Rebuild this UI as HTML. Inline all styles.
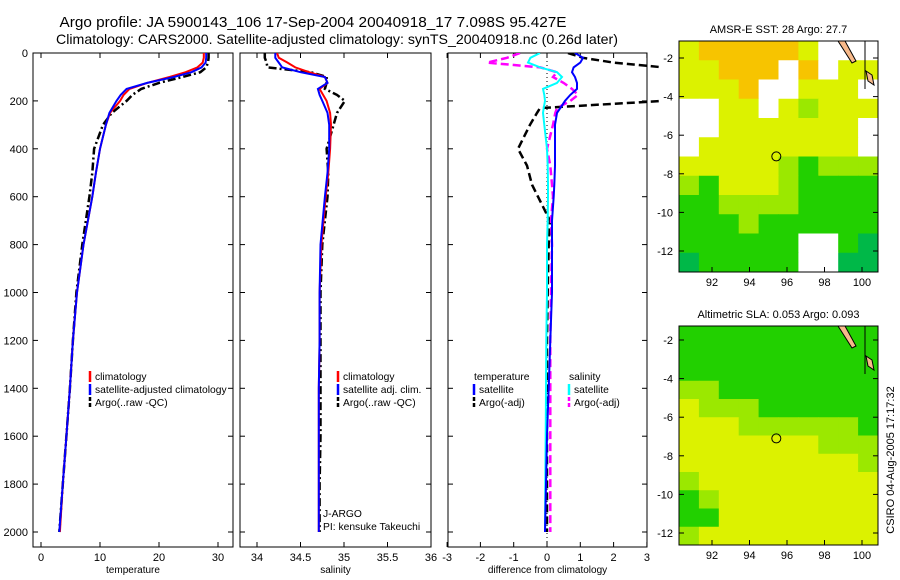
<!DOCTYPE html>
<html><head><meta charset="utf-8">
<style>
body{margin:0;background:#fff;width:900px;height:580px;overflow:hidden;font-family:"Liberation Sans",sans-serif}
svg{display:block}
text{font-family:"Liberation Sans",sans-serif;fill:#000}
</style></head>
<body>
<svg id="fig" width="900" height="580" viewBox="0 0 900 580">
<text x="313" y="27" font-size="14.5" text-anchor="middle" textLength="507" lengthAdjust="spacingAndGlyphs">Argo profile: JA 5900143_106 17-Sep-2004 20040918_17 7.098S 95.427E</text>
<text x="337" y="44" font-size="14" text-anchor="middle" textLength="562" lengthAdjust="spacingAndGlyphs">Climatology: CARS2000. Satellite-adjusted climatology: synTS_20040918.nc (0.26d later)</text>
<text transform="translate(894,460) rotate(-90)" font-size="11" text-anchor="middle">CSIRO 04-Aug-2005 17:17:32</text>
</svg>
<script>
// ---------- data ----------
const depths = [0,20,40,60,80,100,125,150,175,200,250,300,400,500,600,800,1000,1200,1400,1600,1800,2000];
const tempClim = [27.6,27.6,27.4,26.5,24.5,21.8,18,15,14,13.4,11.7,11,10,9.3,8.7,7.2,6.1,5.4,4.9,4.3,3.7,3.2];
const tempSat  = [28.0,28.0,27.9,27.2,25.5,22.5,18,14.5,13.5,12.8,11.6,11,10,9.3,8.7,7.2,6.1,5.4,4.9,4.3,3.7,3.1];
const tempArgo = [28.4,28.4,28.3,28.0,27.0,24.0,20,17,15.5,14.5,12,10.5,9,8.7,8.2,7.0,6.0,5.4,4.9,4.3,3.7,3.1];
const salClim = [34.23,34.25,34.35,34.44,34.6,34.78,34.81,34.72,34.76,34.80,34.84,34.85,34.84,34.82,34.79,34.74,34.72,34.72,34.71,34.71,34.71,34.71];
const salSat  = [34.21,34.21,34.25,34.29,34.5,34.78,34.81,34.70,34.72,34.75,34.81,34.83,34.83,34.81,34.78,34.73,34.72,34.72,34.71,34.71,34.71,34.71];
const salArgo = [34.09,34.09,34.11,34.12,34.62,34.80,34.8,34.78,34.92,35.01,34.92,34.88,34.80,34.82,34.81,34.75,34.73,34.73,34.73,34.73,34.72,34.72];
const diffDepths = [0,20,40,60,80,100,125,150,175,200,230,250,300,400,470,550,600,700,800,1000,1200,1400,1600,1800,2000];
const dTempSat  = [0.84,1.08,1.0,0.8,0.75,0.84,0.9,0.9,0.7,0.54,0.4,0.3,0.24,0.24,0.24,0.22,0.2,0.15,0.15,0.15,0.1,0.05,0,-0.03,-0.06];
const dSalSat   = [-0.21,-0.5,-0.57,-0.2,0.3,0.45,0.3,-0.12,-0.08,-0.06,-0.1,-0.12,-0.08,0,0.02,0.03,0.03,0.02,0,0,-0.02,-0.03,-0.04,-0.05,-0.06];
const dTempArgo = [0.63,1.08,2.0,3.5,4.5,4.5,4.5,4.5,4.5,3.5,-0.21,-0.3,-0.51,-0.87,-0.6,-0.45,-0.27,0.09,0.05,0.02,0,0,0,0,0];
const dSalArgo  = [-0.81,-1.2,-1.8,-0.2,0.3,0.18,0.5,0.75,0.93,0.7,0.3,0.25,0.18,0,0.1,0.15,0.18,0.12,0.15,0.12,0.1,0.1,0.1,0.1,0.1];
const depthTicks = [0,200,400,600,800,1000,1200,1400,1600,1800,2000];
const tempTicks = [0,10,20,30];
const salTicks = [34,34.5,35,35.5,36];
const diffTicks = [-3,-2,-1,0,1,2,3];
const sstLatTicks = [-2,-4,-6,-8,-10,-12];
const lonTicks = [92,94,96,98,100];
// map grids (rows north->south, cols west->east)
const sstGrid = [
 "YOOOOOYWWW","YYOOOWOWYY","YYYOWWYYYW","WWYYWYLYYY","WWYYYYYYYW",
 "WYYYYYYYYW","YYYYYLGLLL","LGYYYLGGGG","GGLLLLGGGG","GGGLGGGGGG",
 "GGGGGGWWGD","DGGGGGWWDD"];
const slaGrid = [
 "GGGGGGGGGG","GGGGGGGGGG","GGGGGGGGGG","LLGGGGGGGG","YLLLGGGGGG",
 "YYYLLLLLLG","YYYYYYYLLL","YYYYYYYYYL","LYYYYYYYYY","GLYYYYYYYY",
 "GGYYYYYYYY","LYYYYYYYYY"];
const argoLon = 95.43, argoLat = -7.1;

// ---------- drawing ----------
const NS="http://www.w3.org/2000/svg";
const fig=document.getElementById('fig');
function mk(tag,attrs,parent){const e=document.createElementNS(NS,tag);for(const k in attrs)e.setAttribute(k,attrs[k]);(parent||fig).appendChild(e);return e;}
const Y0=53, pxPerM=479/2000;
const yD=d=>Y0+d*pxPerM;
const xT=v=>41+v*5.9;
const xS=v=>257+(v-34)*87;
const xD=v=>547+v*33.3;

function panel(name,x0,x1,xs,ticks,label,fmt){
  const g=mk('g',{});
  
  
  mk('rect',{x:x0,y:53,width:x1-x0,height:494,fill:'none',stroke:'#000','stroke-width':1},g);
  depthTicks.forEach(d=>{
    mk('line',{x1:x0,x2:x0+5,y1:yD(d),y2:yD(d),stroke:'#000'},g);
    mk('line',{x1:x1-5,x2:x1,y1:yD(d),y2:yD(d),stroke:'#000'},g);
    if(x0<40){const t=mk('text',{x:28,y:yD(d)+4,'font-size':11,'text-anchor':'end'},g);t.textContent=d;
      }
  });
  ticks.forEach(v=>{const x=xs(v);
    mk('line',{x1:x,x2:x,y1:547,y2:542,stroke:'#000'},g);
    mk('line',{x1:x,x2:x,y1:53,y2:58,stroke:'#000'},g);
    const t=mk('text',{x:x,y:561,'font-size':11,'text-anchor':'middle'},g);t.textContent=fmt(v);
    
  });
  const t=mk('text',{x:(x0+x1)/2,y:573,'font-size':10,'text-anchor':'middle'},g);t.textContent=label;
  
  return g;
}
function line(g,ds,vals,xs,color,w,dash,name,clip){
  const pts=ds.map((d,i)=>xs(vals[i]).toFixed(1)+','+yD(d).toFixed(1)).join(' ');
  const p=mk('polyline',{points:pts,fill:'none',stroke:color,'stroke-width':w,'stroke-dasharray':dash||'none','clip-path':clip||'none'},g);
  
  
}
const defs=mk('defs',{});
[['c1',33,233],['c2',240,431],['c3',448,662]].forEach(([id,a,b])=>{const c=mk('clipPath',{id},defs);mk('rect',{x:a,y:53,width:b-a,height:494},c);});

const g1=panel('temperature-panel',33,233,xT,tempTicks,'temperature',v=>v);
line(g1,depths,tempArgo,xT,'#000',2.5,'8,3,2,3','argo-temperature-line','url(#c1)');
line(g1,depths,tempClim,xT,'#f00',2,'','climatology-temperature-line','url(#c1)');
line(g1,depths,tempSat,xT,'#00f',2,'','satellite-temperature-line','url(#c1)');
const g2=panel('salinity-panel',240,431,xS,salTicks,'salinity',v=>v);
line(g2,depths,salArgo,xS,'#000',2.5,'8,3,2,3','argo-salinity-line','url(#c2)');
line(g2,depths,salClim,xS,'#f00',2,'','climatology-salinity-line','url(#c2)');
line(g2,depths,salSat,xS,'#00f',2,'','satellite-salinity-line','url(#c2)');
const g3=panel('difference-panel',448,647,xD,diffTicks,'difference from climatology',v=>v);
mk('line',{x1:547,x2:547,y1:53,y2:547,stroke:'#000','stroke-dasharray':'1,3'},g3);
line(g3,diffDepths,dTempArgo,xD,'#000',2.5,'8,4','argo-temp-diff-line','url(#c3)');
line(g3,diffDepths,dSalArgo,xD,'#f0f',2.5,'8,4','argo-sal-diff-line','url(#c3)');
line(g3,diffDepths,dSalSat,xD,'#0ff',2,'','satellite-sal-diff-line','url(#c3)');
line(g3,diffDepths,dTempSat,xD,'#00f',2,'','satellite-temp-diff-line','url(#c3)');

function legend(x,y,items,name){
  const g=mk('g',{});
  
  
  items.forEach((it,i)=>{const yy=y+i*13;
    if(it[1])mk('line',{x1:x,x2:x,y1:yy-9,y2:yy+2,stroke:it[1],'stroke-width':2.5,'stroke-dasharray':it[2]||'none'},g);
    const t=mk('text',{x:x+(it[1]?5:0),y:yy,'font-size':10.3},g);t.textContent=it[0];
    
  });
}
legend(90,380,[['climatology','#f00'],['satellite-adjusted climatology','#00f'],['Argo(..raw -QC)','#000','4,2']],'temperature-legend');
legend(338,380,[['climatology','#f00'],['satellite adj. clim.','#00f'],['Argo(..raw -QC)','#000','4,2']],'salinity-legend');
legend(474,380,[['temperature',null],['satellite','#00f'],['Argo(-adj)','#000','4,2']],'diff-temp-legend');
legend(569,380,[['salinity',null],['satellite','#0ff'],['Argo(-adj)','#f0f','4,2']],'diff-sal-legend');
let t=mk('text',{x:323,y:517,'font-size':10.3});t.textContent='J-ARGO';

t=mk('text',{x:323,y:530,'font-size':10.3});t.textContent='PI: kensuke Takeuchi';


// maps
const colors={W:'#ffffff',O:'#f7c400',Y:'#dcf200',L:'#9be800',G:'#22d000',D:'#00b848'};
function map(name,title,grid,x0,y0,w,h,lat0,latPx){
  const g=mk('g',{});
  
  
  const rows=grid.length,cols=grid[0].length,cw=w/cols,ch=h/rows;
  grid.forEach((r,i)=>{for(let j=0;j<cols;j++){
    const c=mk('rect',{x:x0+j*cw,y:y0+i*ch,width:cw+0.5,height:ch+0.5,fill:colors[r[j]]},g);
    
  }});
  mk('polygon',{points:`${x0+w-40},${y0} ${x0+w-33},${y0} ${x0+w-22},${y0+20} ${x0+w-26},${y0+22}`,fill:'#f7b98a',stroke:'#000','stroke-width':1},g);
  mk('polygon',{points:`${x0+w-12},${y0+30} ${x0+w-6},${y0+34} ${x0+w-4},${y0+44} ${x0+w-10},${y0+40}`,fill:'#f7b98a',stroke:'#000','stroke-width':1},g);
  mk('line',{x1:x0+w-13,x2:x0+w-13,y1:y0,y2:y0+48,stroke:'#000'},g);
  mk('rect',{x:x0,y:y0,width:w,height:h,fill:'none',stroke:'#000'},g);
  const lx=v=>712+(v-92)*18.75;
  lonTicks.forEach(v=>{mk('line',{x1:lx(v),x2:lx(v),y1:y0+h,y2:y0+h-5,stroke:'#000'},g);
    const t=mk('text',{x:lx(v),y:y0+h+14,'font-size':11,'text-anchor':'middle'},g);t.textContent=v;
    });
  sstLatTicks.forEach(v=>{const y=lat0+(-2-v)*latPx;
    mk('line',{x1:x0,x2:x0+5,y1:y,y2:y,stroke:'#000'},g);
    mk('line',{x1:x0+w-5,x2:x0+w,y1:y,y2:y,stroke:'#000'},g);
    const t=mk('text',{x:x0-6,y:y+4,'font-size':11,'text-anchor':'end'},g);t.textContent=v;
    });
  const c=mk('circle',{cx:lx(argoLon),cy:lat0+(-2-argoLat)*latPx,r:4.5,fill:'none',stroke:'#000'},g);
  
  const tt=mk('text',{x:x0+w/2,y:y0-8,'font-size':11,'text-anchor':'middle'},g);tt.textContent=title;
  
}
map('sst-map','AMSR-E SST: 28 Argo: 27.7',sstGrid,679,41,199,231,58,19.3);
map('sla-map','Altimetric SLA: 0.053 Argo: 0.093',slaGrid,679,326,199,219,340,19.3);
</script>
</body></html>
